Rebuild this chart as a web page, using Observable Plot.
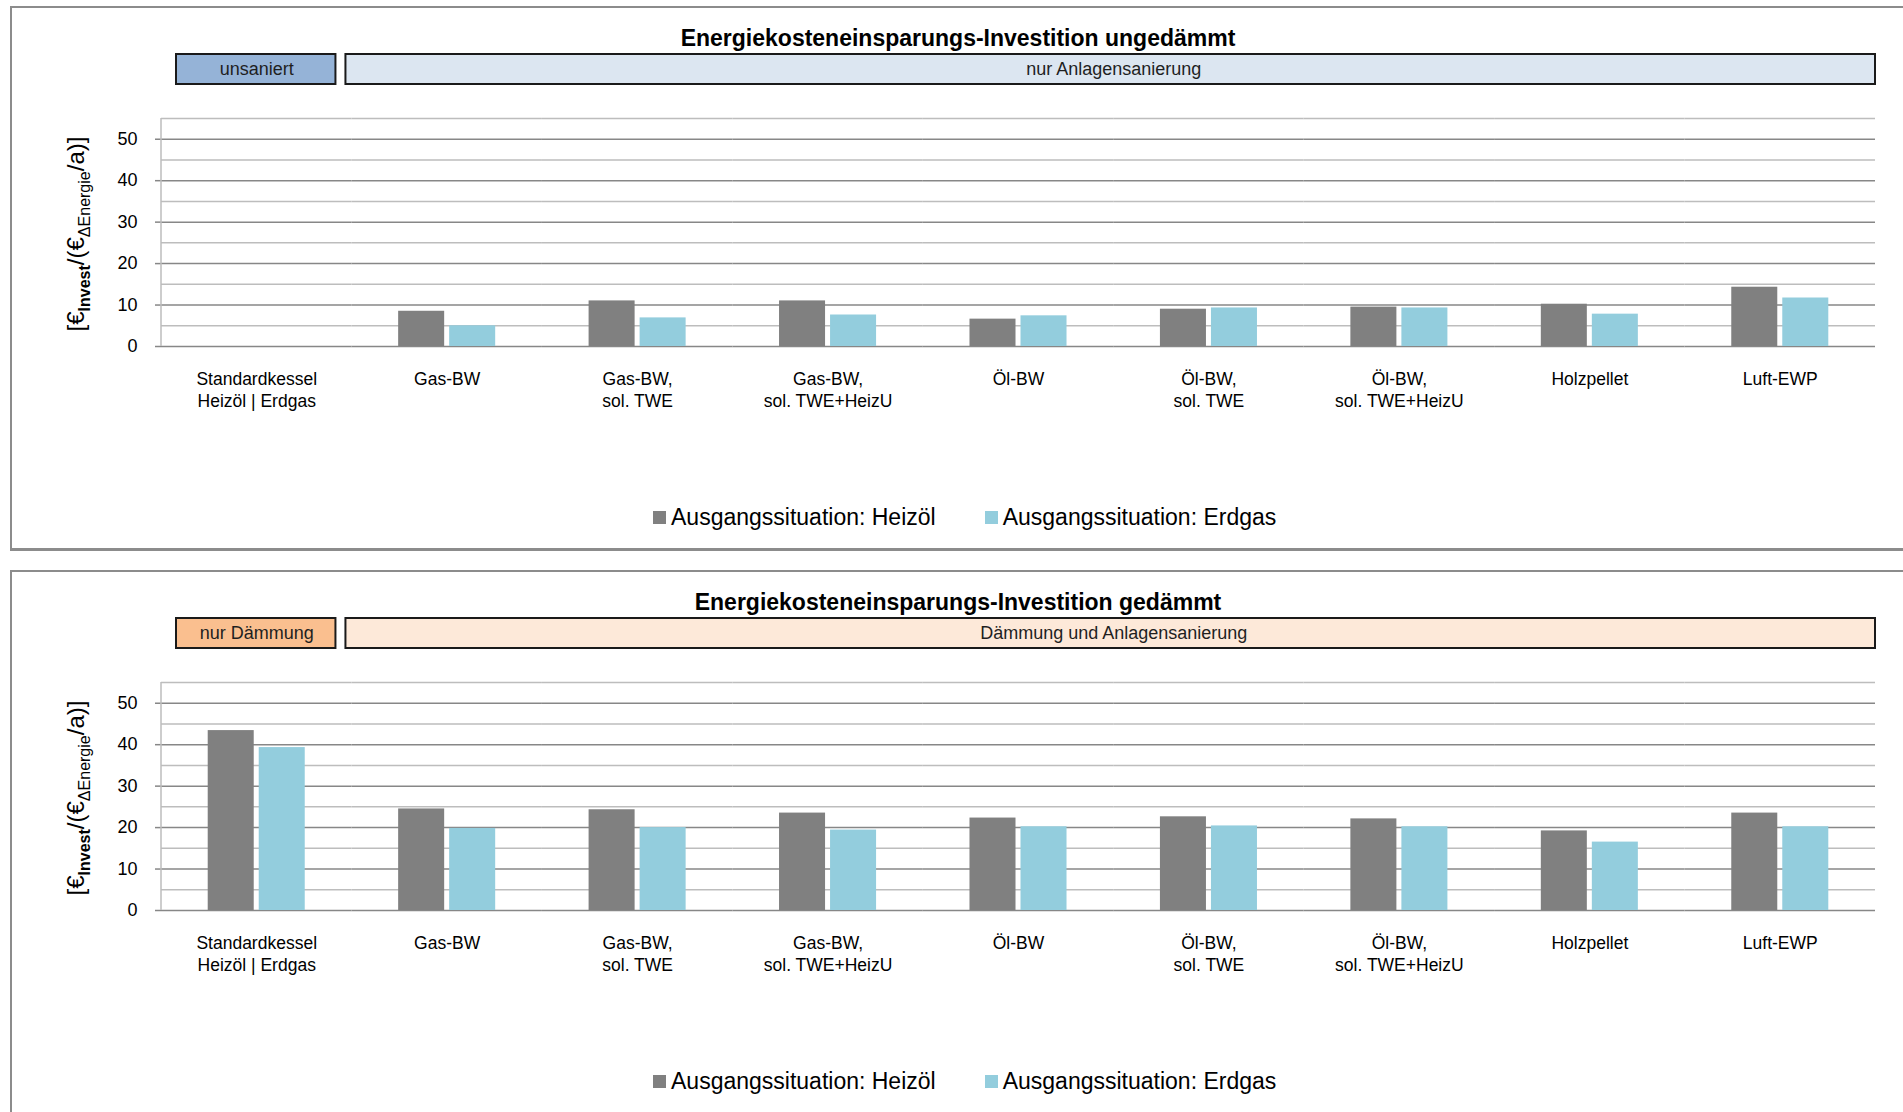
<!DOCTYPE html>
<html>
<head>
<meta charset="utf-8">
<script src="https://cdn.jsdelivr.net/npm/d3@7"></script>
<script src="https://cdn.jsdelivr.net/npm/@observablehq/plot@0.6"></script>
<style>
  html, body { margin: 0; padding: 0; background: #fff; overflow: hidden; width: 1903px; height: 1112px; }
  body { font-family: "Liberation Sans", Arial, sans-serif; position: relative; }
  .panel { position: absolute; left: 0; width: 1903px; height: 564px; }
  .frame { position: absolute; left: 10px; top: 6px; width: 1895px; height: 545px; box-sizing: border-box;
           border: 2px solid #8c8c8c; border-bottom-width: 3px; }
  .title { position: absolute; left: 11px; width: 1894px; top: 24px; text-align: center; font-weight: bold;
           font-size: 23px; line-height: 28px; color: #000; }
  .header { position: absolute; left: 0; top: 50px; }
  .bars { position: absolute; left: 0; top: 100px; }
  .legend { position: absolute; left: 653px; top: 502px; height: 30px; display: flex; align-items: center; }
  .lg-swatches { font-family: "Liberation Sans", Arial, sans-serif !important; font-size: 23px !important;
                 color: #000 !important; margin: 0 !important; min-height: 0 !important; }
  .lg-swatch { margin-right: 49px !important; }
  .lg-swatch > svg { margin-right: 5px !important; }
</style>
</head>
<body>
<script>
// Heating systems on the category axis
const categories = [
  "Standardkessel\nHeizöl | Erdgas",
  "Gas-BW",
  "Gas-BW,\nsol. TWE",
  "Gas-BW,\nsol. TWE+HeizU",
  "Öl-BW",
  "Öl-BW,\nsol. TWE",
  "Öl-BW,\nsol. TWE+HeizU",
  "Holzpellet",
  "Luft-EWP"
];

// Two starting situations, drawn side by side in each group
const series = ["Ausgangssituation: Heizöl", "Ausgangssituation: Erdgas"];
const seriesColors = ["#808080", "#93cddd"];

// Investment per saved energy cost [€Invest/(€ΔEnergie/a)], building not insulated
const heizoelUngedaemmt = [null, 8.5, 11.0, 11.0, 6.6, 9.0, 9.5, 10.2, 14.3];
const erdgasUngedaemmt  = [null, 5.0, 6.9, 7.6, 7.4, 9.3, 9.3, 7.8, 11.7];

// Same measure, building insulated
const heizoelGedaemmt = [43.4, 24.5, 24.3, 23.5, 22.3, 22.6, 22.1, 19.2, 23.5];
const erdgasGedaemmt  = [39.3, 19.8, 20.0, 19.4, 20.2, 20.4, 20.2, 16.5, 20.2];

// Panel titles and the two header boxes above each chart
const titles = [
  "Energiekosteneinsparungs-Investition ungedämmt",
  "Energiekosteneinsparungs-Investition gedämmt"
];
const headerLabels = [
  ["unsaniert", "nur Anlagensanierung"],
  ["nur Dämmung", "Dämmung und Anlagensanierung"]
];
const headerFills = [
  ["#95b3d7", "#dce6f1"],
  ["#fabf8f", "#fde9d9"]
];

// Value axis
const yDomain = [0, 55];
const yTicksMajor = [0, 10, 20, 30, 40, 50];
const yGridMinor = [5, 15, 25, 35, 45, 55];

const W = 1903, ML = 161, MR = 28;
const FONT = '"Liberation Sans", Arial, sans-serif';

function headerPlot(labels, fills) {
  const n = categories.length;
  const first = {label: labels[0], x1: 0, x2: 1};
  const rest = {label: labels[1], x1: 1, x2: n};
  return Plot.plot({
    width: W, height: 40, marginLeft: ML, marginRight: MR, marginTop: 4, marginBottom: 6,
    style: {fontFamily: FONT, background: "transparent"},
    x: {domain: [0, n], axis: null},
    y: {axis: null},
    marks: [
      Plot.rect([first], {x1: "x1", x2: "x2", fill: fills[0], stroke: "#1a1a1a", strokeWidth: 2, insetLeft: 15, insetRight: 16}),
      Plot.rect([rest], {x1: "x1", x2: "x2", fill: fills[1], stroke: "#1a1a1a", strokeWidth: 2, insetLeft: -6, insetRight: 0}),
      Plot.text([first, rest], {x: d => (d.x1 + d.x2) / 2, text: "label", fontSize: 18, fill: "#1f1f1f"})
    ]
  });
}

function barsPlot(heizoel, erdgas) {
  // every category keeps a row (even without a value) so each facet is laid out
  const rows = categories.flatMap((c, i) => [
    {category: c, series: series[0], value: heizoel[i]},
    {category: c, series: series[1], value: erdgas[i]}
  ]);

  const chart = Plot.plot({
    width: W, height: 316, marginLeft: ML, marginRight: MR, marginTop: 18, marginBottom: 70,
    style: {fontFamily: FONT, fontSize: "17px", color: "#000", background: "transparent"},
    fx: {domain: categories, padding: 0, round: false, label: null},
    x: {domain: series, paddingInner: 0.098, paddingOuter: 0.9155, round: false, axis: null},
    y: {domain: yDomain},
    color: {domain: series, range: seriesColors},
    facet: {data: rows, x: "category"},
    marks: [
      Plot.ruleY(yGridMinor, {stroke: "#bdbdbd", strokeWidth: 1.5}),
      Plot.ruleY(yTicksMajor, {stroke: "#878787", strokeWidth: 1.5}),
      Plot.barY(rows, {fx: "category", x: "series", y: "value", fill: "series", inset: 0}),
      Plot.axisY(yTicksMajor, {tickSize: 6, tickPadding: 18, stroke: "#878787", strokeWidth: 1.5, fontSize: 18, label: null}),
      Plot.axisFx({anchor: "bottom", tickSize: 0, tickPadding: 22.5, fontSize: 17.5, lineHeight: 1.28, label: null})
    ]
  });

  const y = chart.scale("y");
  const svg = d3.select(chart);
  // vertical value axis line
  svg.append("line")
    .attr("x1", ML).attr("x2", ML)
    .attr("y1", y.apply(yDomain[1])).attr("y2", y.apply(yDomain[0]))
    .attr("stroke", "#bdbdbd").attr("stroke-width", 1.5);

  // axis title with subscripts
  const yMid = (y.apply(yDomain[0]) + y.apply(yDomain[1])) / 2 + 2;
  const lab = svg.append("text")
    .attr("transform", `translate(${ML - 77},${yMid}) rotate(-90)`)
    .attr("text-anchor", "middle").attr("font-size", 24).attr("fill", "#000");
  lab.append("tspan").text("[€");
  lab.append("tspan").attr("font-size", 16).attr("font-weight", "bold").attr("dy", 6).text("Invest");
  lab.append("tspan").attr("dy", -6).text("/(€");
  lab.append("tspan").attr("font-size", 16).attr("dy", 6).text("ΔEnergie");
  lab.append("tspan").attr("dy", -6).text("/a)]");
  return chart;
}

const panelData = [
  [heizoelUngedaemmt, erdgasUngedaemmt],
  [heizoelGedaemmt, erdgasGedaemmt]
];

panelData.forEach(([heizoel, erdgas], p) => {
  const panel = document.createElement("div");
  panel.className = "panel";
  panel.style.top = (p * 564) + "px";

  const frame = document.createElement("div");
  frame.className = "frame";
  if (p === 1) frame.style.height = "700px";
  panel.appendChild(frame);

  const title = document.createElement("div");
  title.className = "title";
  title.textContent = titles[p];
  panel.appendChild(title);

  const header = document.createElement("div");
  header.className = "header";
  header.appendChild(headerPlot(headerLabels[p], headerFills[p]));
  panel.appendChild(header);

  const bars = document.createElement("div");
  bars.className = "bars";
  bars.appendChild(barsPlot(heizoel, erdgas));
  panel.appendChild(bars);

  const legend = document.createElement("div");
  legend.className = "legend";
  legend.appendChild(Plot.legend({
    color: {domain: series, range: seriesColors},
    legend: "swatches", swatchSize: 13, className: "lg"
  }));
  panel.appendChild(legend);

  document.body.appendChild(panel);
});
</script>
</body>
</html>
